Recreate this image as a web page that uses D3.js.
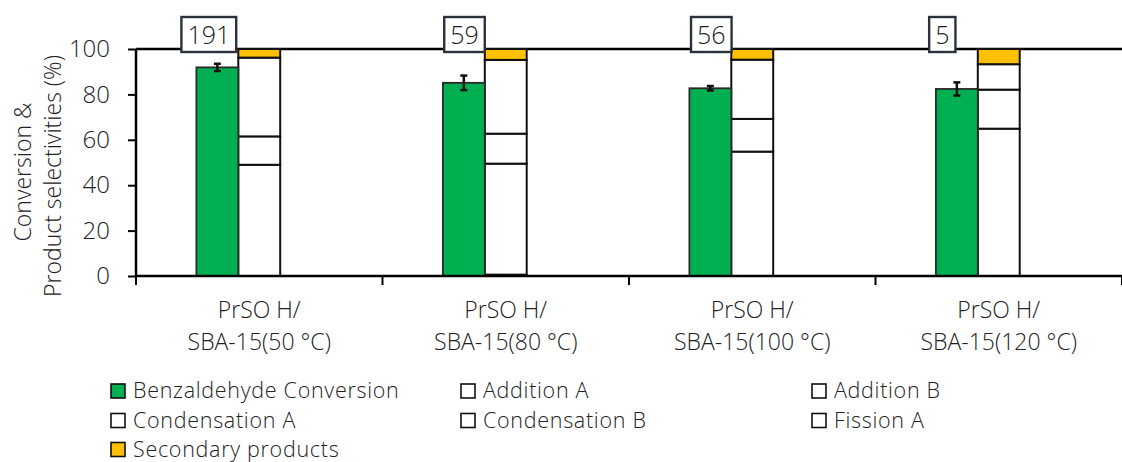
<!DOCTYPE html>
<html>
<head>
<meta charset="utf-8">
<script src="https://cdn.jsdelivr.net/npm/d3@7"></script>
<style>
  html, body { margin: 0; padding: 0; background: #fff; }
  svg { display: block; }
  text { font-family: "Open Sans", "Noto Sans", sans-serif; font-weight: 300; fill: #222; white-space: pre; }
</style>
</head>
<body>
<svg id="chart" width="1122" height="462"></svg>
<script>
// ---- data ----
const categoriesLine1 = ["PrSO H/", "PrSO H/", "PrSO H/", "PrSO H/"];
const categoriesLine2 = ["SBA-15(50 °C)", "SBA-15(80 °C)", "SBA-15(100 °C)", "SBA-15(120 °C)"];
const conversion      = [91.9, 85.1, 82.7, 82.4];
const conversionError = [1.6, 3.2, 1.0, 2.9];
const additionA       = [49.0, 0.6, 54.8, 64.9];
const additionB       = [12.5, 48.9, 14.4, 17.2];
const condensationA   = [34.7, 13.2, 26.1, 11.2];
const condensationB   = [0, 32.5, 0, 0];
const fissionA        = [0, 0, 0, 0];
const secondary       = [3.8, 4.8, 4.7, 6.7];
const topLabels       = ["191", "59", "56", "5"];
const yTicks          = [0, 20, 40, 60, 80, 100];
const seriesNames     = ["Benzaldehyde Conversion", "Addition A", "Addition B",
                         "Condensation A", "Condensation B", "Fission A", "Secondary products"];
const seriesColors    = ["#00b050", "#ffffff", "#ffffff", "#ffffff", "#ffffff", "#ffffff", "#ffc000"];

(function () {
// ---- layout ----
const svg = d3.select("#chart");
const mLeft = 136, mRight = 1122, mTop = 49, mBottom = 276;
const idx = d3.range(categoriesLine2.length);
const x = d3.scaleBand().domain(idx).range([mLeft, mRight]).paddingInner(0).paddingOuter(0);
const y = d3.scaleLinear().domain([0, 100]).range([mBottom, mTop]);
const bw = x.bandwidth();
const barW = bw * 0.17;
const cx = i => x(i) + bw / 2;

// top line at 100
svg.append("line").attr("x1", mLeft).attr("x2", mRight).attr("y1", y(100)).attr("y2", y(100))
  .attr("stroke", "#000").attr("stroke-width", 2.5);

// stacked selectivities
const stackSeries = [additionA, additionB, condensationA, condensationB, fissionA, secondary];
const stackColors = seriesColors.slice(1);
const rows = idx.map(i => ({ i, v: stackSeries.map(s => s[i]) }));
const stack = d3.stack().keys(d3.range(stackSeries.length)).value((d, k) => d.v[k]);
const stacked = stack(rows);
stacked.forEach((layer, k) => {
  svg.append("g").selectAll("rect").data(layer).join("rect")
    .attr("x", d => cx(d.data.i) - barW / 2)
    .attr("width", barW)
    .attr("y", d => y(d[1]))
    .attr("height", d => y(d[0]) - y(d[1]))
    .attr("fill", stackColors[k])
    .attr("stroke", "#111")
    .attr("stroke-width", 2);
});

// conversion bars
svg.append("g").selectAll("rect").data(idx).join("rect")
  .attr("x", i => cx(i) - barW * 1.5)
  .attr("width", barW)
  .attr("y", i => y(conversion[i]))
  .attr("height", i => y(0) - y(conversion[i]))
  .attr("fill", seriesColors[0])
  .attr("stroke", "#2a2a2a")
  .attr("stroke-width", 1.8);

// error bars
const eg = svg.append("g").attr("stroke", "#111").attr("stroke-width", 2.5);
idx.forEach(i => {
  const ex = cx(i) - barW;
  const y1 = y(conversion[i] + conversionError[i]), y2 = y(conversion[i] - conversionError[i]);
  eg.append("line").attr("x1", ex).attr("x2", ex).attr("y1", y1).attr("y2", y2);
  eg.append("line").attr("x1", ex - 3.5).attr("x2", ex + 3.5).attr("y1", y1).attr("y2", y1);
  eg.append("line").attr("x1", ex - 3.5).attr("x2", ex + 3.5).attr("y1", y2).attr("y2", y2);
});

// y axis
const yAxis = d3.axisLeft(y).tickValues(yTicks).tickSize(8).tickPadding(18);
const yg = svg.append("g").attr("transform", `translate(${mLeft},0)`).call(yAxis);
yg.select(".domain").attr("stroke", "#000").attr("stroke-width", 2.5).attr("d", `M0,${y(100)}V${mBottom}`);
yg.selectAll(".tick line").attr("stroke", "#000").attr("stroke-width", 2);
yg.selectAll(".tick text").style("font-size", "24px").attr("fill", "#222")
  .style("font-family", '"Open Sans", sans-serif');

// x axis line and ticks at band edges
svg.append("line").attr("x1", mLeft - 1).attr("x2", mRight).attr("y1", mBottom).attr("y2", mBottom)
  .attr("stroke", "#000").attr("stroke-width", 2.5);
svg.append("g").selectAll("line").data(idx.concat([idx.length])).join("line")
  .attr("x1", i => i < idx.length ? x(i) : mRight)
  .attr("x2", i => i < idx.length ? x(i) : mRight)
  .attr("y1", mBottom).attr("y2", mBottom + 9)
  .attr("stroke", "#000").attr("stroke-width", 2);

// category labels
const cl = svg.append("g").attr("text-anchor", "middle").style("font-size", "23px");
idx.forEach(i => {
  cl.append("text").attr("x", cx(i)).attr("y", 318).text(categoriesLine1[i]);
  cl.append("text").attr("x", cx(i)).attr("y", 350).text(categoriesLine2[i]);
});

// y axis title
const yt = svg.append("g").style("font-size", "23px").attr("text-anchor", "middle");
yt.append("text").attr("transform", "translate(31,172) rotate(-90)").text("Conversion &");
yt.append("text").attr("transform", "translate(61,176) rotate(-90)").text("Product selectivities (%)");

// boxed labels above conversion bars
const labelCenterOffset = [72.8, 82, 82.3, 66.8];
idx.forEach(i => {
  const g = svg.append("g");
  const t = g.append("text").attr("x", x(i) + labelCenterOffset[i]).attr("y", 43.5)
    .attr("text-anchor", "middle").style("font-size", "25px").attr("fill", "#ff2a2a")
    .style("font-family", '"Open Sans", sans-serif').text(topLabels[i]);
  const bb = t.node().getBBox();
  g.insert("rect", "text").attr("x", bb.x - 6).attr("width", bb.width + 12)
    .attr("y", 17).attr("height", 35)
    .attr("fill", "#fff").attr("stroke", "#2b323c").attr("stroke-width", 2.4);
});

// legend
const legCols = [111, 461, 812];
const legRows = [398, 427.5, 456.5];
const lg = svg.append("g").style("font-size", "21.5px").style("letter-spacing", "0.7px");
seriesNames.forEach((name, k) => {
  const c = k % 3, r = Math.floor(k / 3);
  lg.append("rect").attr("x", legCols[c]).attr("y", legRows[r] - 14).attr("width", 14).attr("height", 14)
    .attr("fill", seriesColors[k]).attr("stroke", "#111").attr("stroke-width", 1.6);
  lg.append("text").attr("x", legCols[c] + 22).attr("y", legRows[r]).text(name);
});
})();
</script>
</body>
</html>
